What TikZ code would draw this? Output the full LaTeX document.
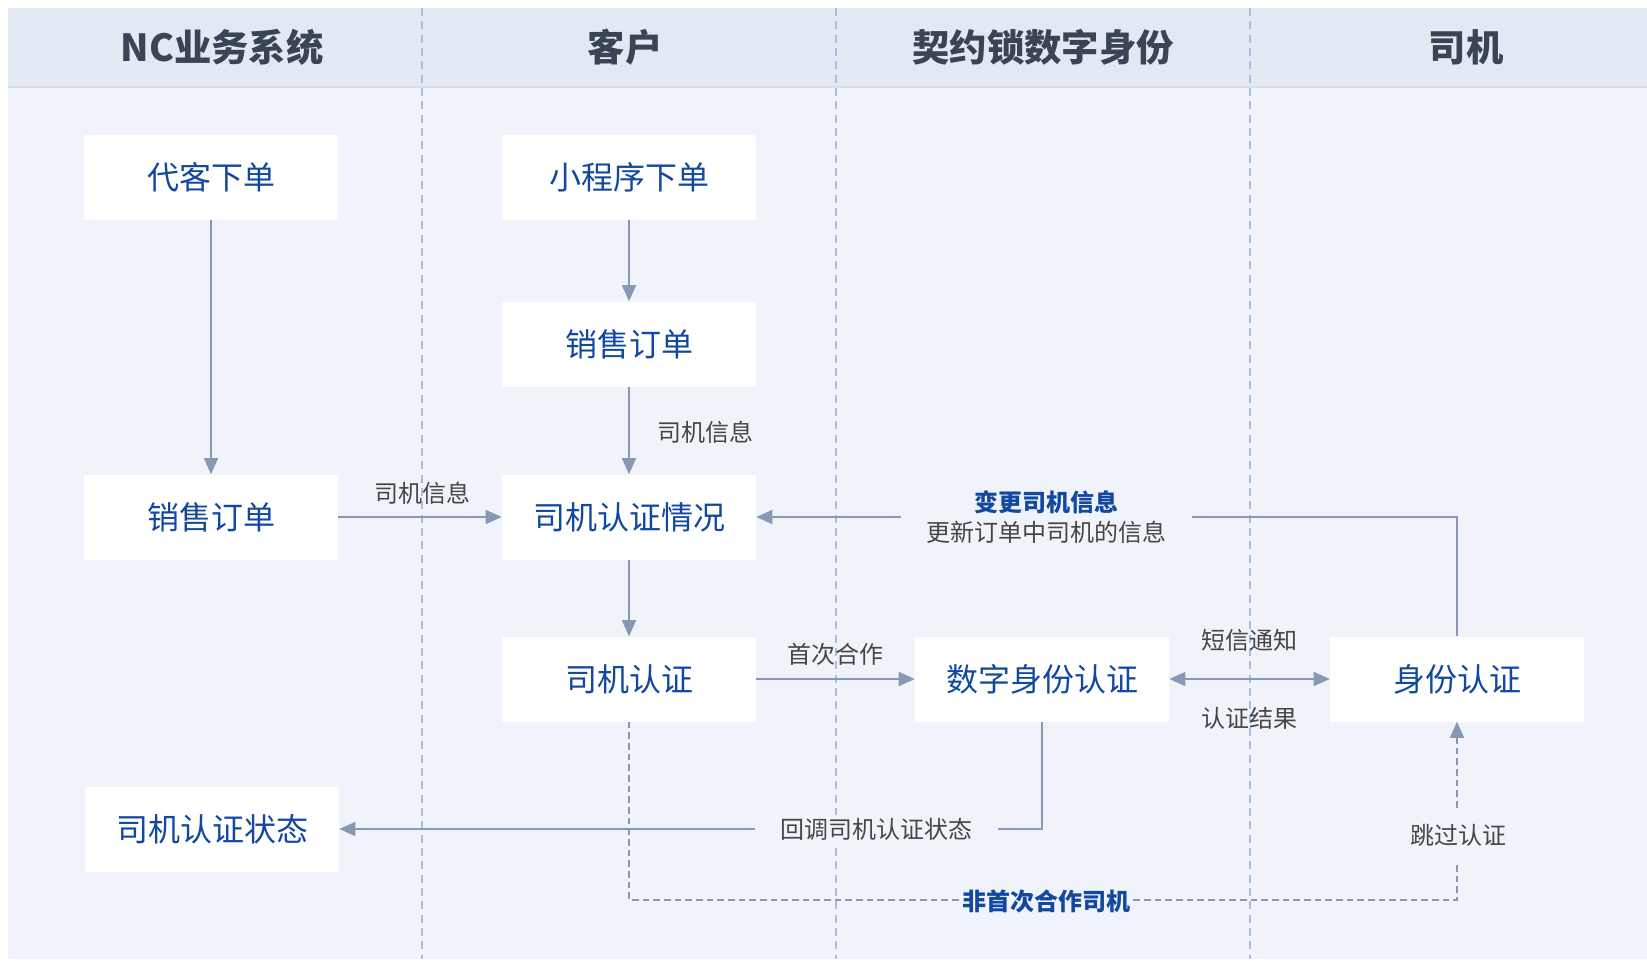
\documentclass[tikz,border=0pt]{standalone}
\usepackage{fontspec}
\setmainfont{Noto Sans CJK SC}
\usetikzlibrary{arrows.meta}
\definecolor{bgpane}{RGB}{240,243,249}
\definecolor{bghead}{RGB}{226,233,243}
\definecolor{laneline}{RGB}{168,190,222}
\definecolor{flowline}{RGB}{135,152,180}
\definecolor{boxtext}{RGB}{18,72,160}
\definecolor{lbltext}{RGB}{70,70,70}
\definecolor{headtext}{RGB}{58,68,85}

\begin{document}
\begin{tikzpicture}[x=0.75pt,y=0.75pt,yscale=-1,xscale=1,
  stepbox/.style={fill=white,minimum width=190.5pt,minimum height=63.75pt,inner sep=0pt,text=boxtext,font=\fontsize{24}{28}\selectfont},
  headlbl/.style={text=headtext,font=\fontsize{28}{32}\selectfont\bfseries},
  lbl/.style={text=lbltext,font=\fontsize{18}{22}\selectfont,inner sep=1pt},
  gaplbl/.style={lbl,fill=bgpane,inner xsep=19pt,inner ysep=2pt,align=center},
  keylbl/.style={text=boxtext,font=\fontsize{18}{22}\selectfont\bfseries},
  flow/.style={draw=flowline,line width=1.1pt,-{Triangle[length=12pt,width=10.5pt]}},
  dflow/.style={flow,dash pattern=on 5pt off 3pt}]
\useasboundingbox (0,0) rectangle (1647,961);

%Shape: Rectangle [id:pane] 
\fill [bgpane] (8,8) rectangle (1647,959);
%Shape: Rectangle [id:head] 
\fill [bghead] (8,8) rectangle (1647,87);
\draw [color={rgb, 255:red, 213; green, 221; blue, 233 }, line width=0.8pt] (8,87) -- (1647,87);
%Straight Lines [id:lanes] 
\foreach \lx in {422,836,1250}
  \draw [laneline, line width=0.9pt, dash pattern=on 6pt off 4pt] (\lx,8) -- (\lx,959);

% Text Node
\node [headlbl] (hnc) at (222,47) {NC业务系统};
% Text Node
\node [headlbl] (hkh) at (625,47) {客户};
% Text Node
\node [headlbl] (hqy) at (1043,47) {契约锁数字身份};
% Text Node
\node [headlbl] (hsj) at (1466,47) {司机};

%Shape: Boxes 
\node [stepbox] (dkxd) at (211,177) {代客下单};
\node [stepbox] (xcxd) at (629,177) {小程序下单};
\node [stepbox] (xsdd) at (629,344) {销售订单};
\node [stepbox] (ncdd) at (211,517) {销售订单};
\node [stepbox] (rzqk) at (629,517) {司机认证情况};
\node [stepbox] (sjrz) at (629,679) {司机认证};
\node [stepbox] (szsf) at (1042,679) {数字身份认证};
\node [stepbox] (sfrz) at (1457,679) {身份认证};
\node [stepbox] (rzzt) at (212,829) {司机认证状态};

\coordinate (dl) at (629,900);
\coordinate (dr) at (1457,900);

%Straight Lines 
\draw [flow] (dkxd) -- (ncdd);
\draw [flow] (xcxd) -- (xsdd);
\draw [flow] (xsdd) -- (rzqk);
\draw [flow] (ncdd) -- (rzqk);
\draw [flow] (rzqk) -- (sjrz);
\draw [flow] (sjrz) -- (szsf);
\draw [flow,{Triangle[length=12pt,width=10.5pt]}-{Triangle[length=12pt,width=10.5pt]}] (szsf) -- (sfrz);
\draw [flow] (sfrz.north) |- (rzqk.east)
  node [gaplbl, pos=0.793] (bglbl) {{\color{boxtext}\bfseries 变更司机信息}\\更新订单中司机的信息};
\draw [flow] (szsf.south) |- (rzzt.east)
  node [gaplbl, pos=0.618] (hdlbl) {回调司机认证状态};
\draw [dflow] (sjrz.south) -- (dl) -- (dr) -- (sfrz.south);
\node [keylbl, fill=bgpane, inner xsep=2pt, inner ysep=1pt] (fsclbl) at (1046,901) {非首次合作司机};
\node [lbl, fill=bgpane, inner ysep=12pt] (tglbl) at (1458,835) {跳过认证};

% Text Node
\node [lbl] (xxa) at (705,432) {司机信息};
% Text Node
\node [lbl] (xxb) at (422,493) {司机信息};
% Text Node
\node [lbl] (sclbl) at (835,654) {首次合作};
% Text Node
\node [lbl] (dxlbl) at (1249,640) {短信通知};
% Text Node
\node [lbl] (jglbl) at (1249,718) {认证结果};

\end{tikzpicture}
\end{document}
